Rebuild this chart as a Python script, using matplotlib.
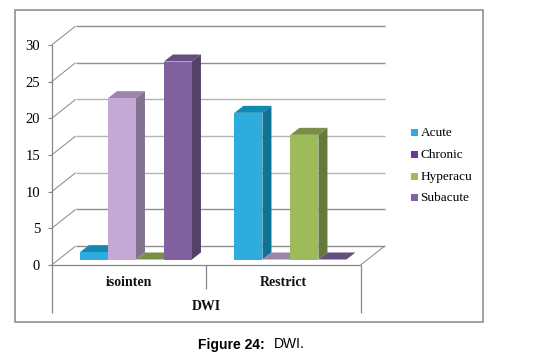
import matplotlib
matplotlib.use("Agg")
import matplotlib.pyplot as plt
from matplotlib.patches import Polygon, Rectangle

categories = ["isointen", "Restrict"]
group_label = "DWI"
series_names = ["Acute", "Chronic", "Hyperacu", "Subacute"]
acute = [1, 20]
chronic = [22, 0]
hyperacu = [0, 17]
subacute = [27, 0]
yticks = [0, 5, 10, 15, 20, 25, 30]

front_cols = ["#2EACDD", "#C4A9D6", "#9DBB5A", "#7F619D"]
side_cols = ["#0F7396", "#84708F", "#66793A", "#54416A"]
top_cols = ["#1289B3", "#9C84AB", "#7A8F45", "#654E80"]
legend_cols = ["#2EACE0", "#6F3598", "#9DBB5A", "#8064A2"]

W, H = 558, 359
fig = plt.figure(figsize=(W / 100, H / 100), dpi=100, facecolor="white")
x0, x1, ytop, ybot = 51.7, 360.7, 45.0, 265.0
ax = fig.add_axes([x0 / W, 1 - ybot / H, (x1 - x0) / W, (ybot - ytop) / H])
ax.set_xlim(0, 2)
ax.set_ylim(0, 30)
ax.axis("off")
px = 2 / (x1 - x0)
py = 30 / (ybot - ytop)

back_dx, back_dy = 24 * px, 19 * py
grid = "#8E8E8E"
axis_col = "#868686"


def ln(xs, ys, c=grid, lw=0.8, z=1):
    ax.plot(xs, ys, color=c, lw=lw, clip_on=False, zorder=z, solid_capstyle="butt")


for t in yticks:
    ln([0, back_dx], [t, t + back_dy], c=axis_col, lw=0.7)
    ln([back_dx, 2 + back_dx], [t + back_dy] * 2, c="#B4B4B4" if t in (10, 15, 20) else grid, lw=1.0)
    ln([-3.5 * px, 0], [t, t], c=axis_col)
    ax.text(-11.7 * px, t - 1.5 * py, str(t), ha="right", va="center", family="Liberation Serif",
            fontsize=10.5, color="black", clip_on=False)
ln([2, 2 + back_dx], [0, back_dy], c=axis_col, lw=0.7)
ln([0, 0], [-48 * py, 30], c=axis_col, lw=0.9)
ln([0, 2], [0, 0], c=axis_col, lw=0.9)
ln([1, 1], [-24 * py, 0], c=axis_col, lw=0.9)
ln([2, 2], [-48 * py, 0], c=axis_col, lw=0.9)

serif = dict(family="Liberation Serif", fontsize=10, fontweight="bold", color="#111111",
             ha="center", va="center", clip_on=False)
for i, c in enumerate(categories):
    ax.text(i + 0.5, -17.5 * py, c, **serif)
ax.text(1, -41 * py, group_label, **serif)

shift_x, shift_y = 7 * px, 5.5 * py
bw = 28 * px
dep_x, dep_y = 9 * px, 7 * py
series = [acute, chronic, hyperacu, subacute]
for k, vals in enumerate(series):
    for i, v in enumerate(vals):
        left = i + 0.5 + shift_x + (k - 2) * bw
        b = shift_y
        ax.bar(left, v, width=bw, bottom=b, align="edge", color=front_cols[k],
               linewidth=0, zorder=3 + k * 0.1, clip_on=False)
        top = b + v
        ax.add_patch(Polygon([(left, top), (left + bw, top), (left + bw + dep_x, top + dep_y),
                              (left + dep_x, top + dep_y)], closed=True, fc=top_cols[k], ec="none",
                             zorder=3 + k * 0.1 - 0.01, clip_on=False))
        ax.add_patch(Polygon([(left + bw, b), (left + bw + dep_x, b + dep_y),
                              (left + bw + dep_x, top + dep_y), (left + bw, top)], closed=True,
                             fc=side_cols[k], ec="none", zorder=3 + k * 0.1 - 0.01, clip_on=False))

# legend
for k, name in enumerate(series_names):
    y = 132.7 + k * 21.7
    fig.patches.append(Rectangle((411 / W, 1 - (y + 3.5) / H), 7 / W, 7 / H, transform=fig.transFigure,
                                 fc=legend_cols[k], ec="none"))
    fig.text(420.5 / W, 1 - (y + 3.5) / H, name, family="Liberation Serif", fontsize=9.5, color="black",
             ha="left", va="baseline")

# chart frame
frame = "#868686"
fig.add_artist(Rectangle((14.5 / W, 1 - 322 / H), (483 - 14.5) / W, (322 - 9.5) / H, transform=fig.transFigure,
                         fc="none", ec=frame, lw=1.1))

fig.text(198 / W, 1 - 348.5 / H, "Figure 24:", family="Liberation Sans", fontsize=10, fontweight="bold",
         color="black", ha="left", va="baseline")
fig.text(274 / W, 1 - 348.5 / H, "DWI.", family="Liberation Sans", fontsize=10, color="black",
         ha="left", va="baseline")

fig.savefig("out.png", dpi=100)
